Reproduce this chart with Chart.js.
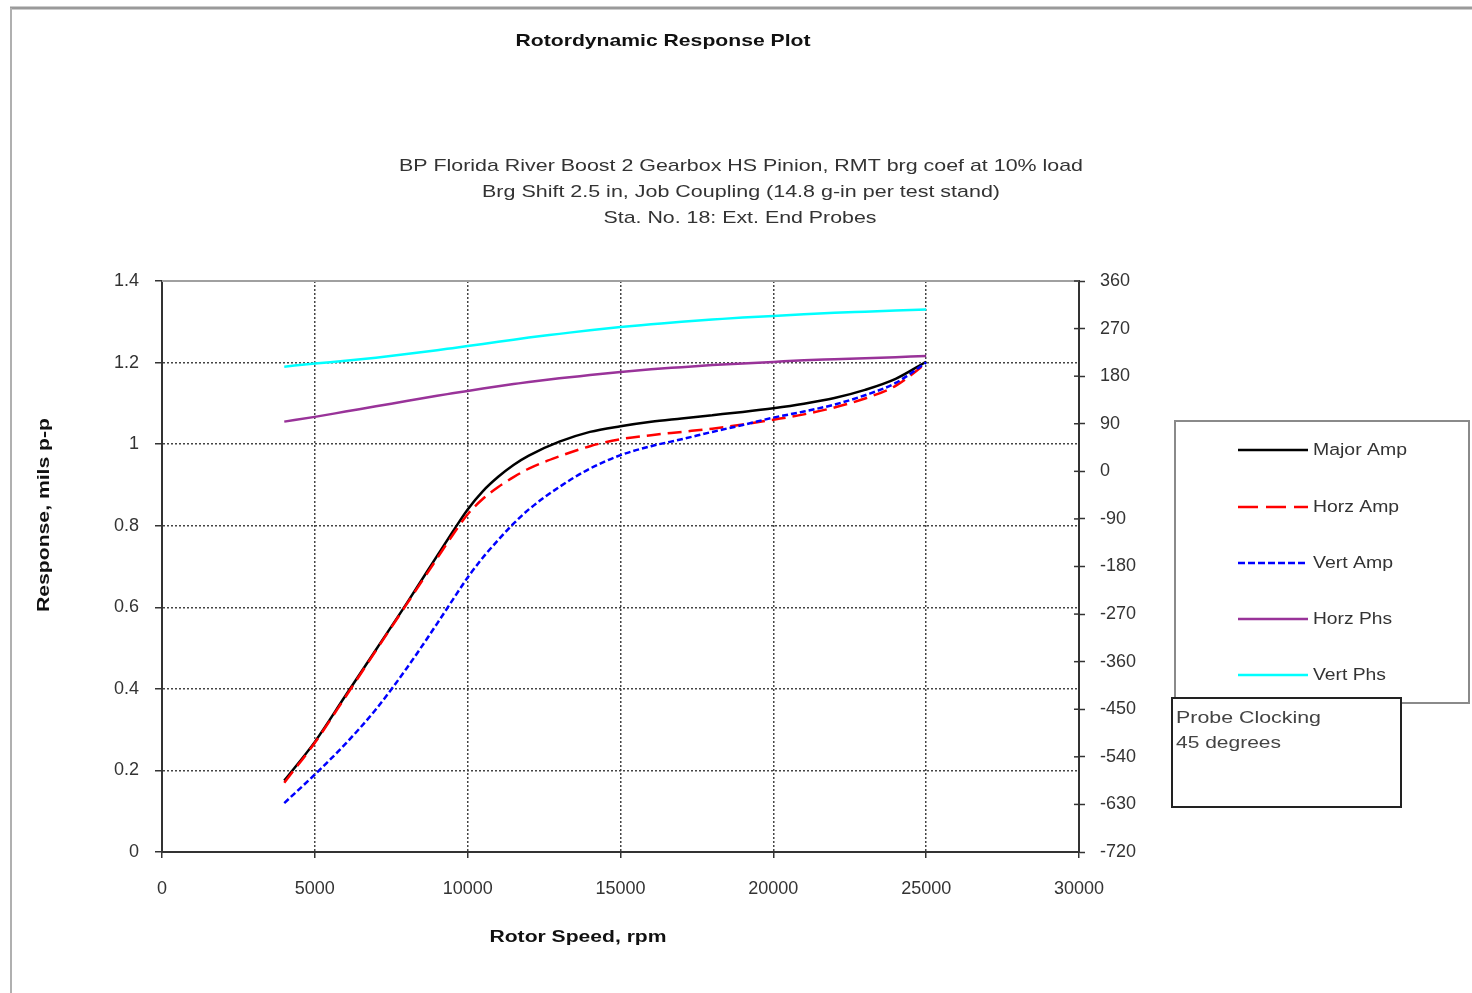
<!DOCTYPE html>
<html>
<head>
<meta charset="utf-8">
<title>Rotordynamic Response Plot</title>
<script src="https://cdn.jsdelivr.net/npm/chart.js@4.4.1/dist/chart.umd.min.js"></script>
<style>
  html, body { margin: 0; padding: 0; background: #fff; }
  canvas { display: block; }
</style>
</head>
<body>
<canvas id="responseChart" width="1472" height="993"></canvas>
<script>
// rotor speed, rpm
const speeds = [4000, 5000, 6000, 7000, 8000, 9000, 9500, 10000, 10500, 11000, 11500, 12000, 13000, 14000,
    15000, 16000, 17000, 18000, 19000, 20000, 21000, 22000, 23000, 24000, 25000];

// amplitudes, mils p-p (left axis)
const majorAmp = [0.175, 0.27, 0.383, 0.496, 0.609, 0.726, 0.784, 0.84, 0.885, 0.92, 0.949, 0.972, 1.006, 1.03,
    1.044, 1.055, 1.063, 1.071, 1.079, 1.088, 1.099, 1.113, 1.133, 1.16, 1.202];
const horzAmp = [0.17, 0.268, 0.38, 0.494, 0.607, 0.72, 0.776, 0.828, 0.866, 0.895, 0.919, 0.94, 0.97, 0.995,
    1.012, 1.022, 1.03, 1.038, 1.048, 1.06, 1.073, 1.09, 1.112, 1.143, 1.198];
const vertAmp = [0.12, 0.19, 0.265, 0.35, 0.45, 0.56, 0.617, 0.673, 0.722, 0.765, 0.805, 0.84, 0.895, 0.94,
    0.973, 0.995, 1.012, 1.03, 1.047, 1.065, 1.08, 1.097, 1.12, 1.15, 1.2];

// phases, degrees (right axis)
const horzPhs = [94, 103, 113, 123, 133, 143, 147.5, 152, 156.5, 161, 165, 169, 176, 182,
    188, 193, 197, 201, 204, 207, 210, 212, 214, 216, 218];
const vertPhs = [198, 204, 209, 215, 222, 229, 233, 237, 241, 245, 249, 253, 260, 267,
    273, 278, 283, 287, 291, 294, 297, 300, 302, 304, 306];

const seriesNames = ["Major Amp", "Horz Amp", "Vert Amp", "Horz Phs", "Vert Phs"];

const chartTitle = "Rotordynamic Response Plot";
const subTitle = [
    "BP Florida River Boost 2 Gearbox HS Pinion, RMT brg coef at 10% load",
    "Brg Shift 2.5 in, Job Coupling (14.8 g-in per test stand)",
    "Sta. No. 18: Ext. End Probes"
];
const xTitle = "Rotor Speed, rpm";
const yTitle = "Response, mils p-p";
const noteLines = ["Probe Clocking", "45 degrees"];

const FONT = "'Liberation Sans', Arial, sans-serif";

function pts(values) {
    return speeds.map((s, i) => ({ x: s, y: values[i] }));
}

// draw text squeezed/stretched horizontally to a given width
function fitText(ctx, text, x, y, width, align) {
    const w = ctx.measureText(text).width;
    ctx.save();
    ctx.translate(x, y);
    ctx.scale(width / w, 1);
    ctx.textAlign = align;
    ctx.fillText(text, 0, 0);
    ctx.restore();
}

const decorations = {
    id: 'decorations',
    beforeDraw(chart) {
        const ctx = chart.ctx;
        ctx.save();
        ctx.fillStyle = '#fff';
        ctx.fillRect(0, 0, chart.width, chart.height);
        // outer frame
        ctx.strokeStyle = '#9a9a9a';
        ctx.lineWidth = 3;
        ctx.beginPath();
        ctx.moveTo(10, 8);
        ctx.lineTo(chart.width, 8);
        ctx.stroke();
        ctx.lineWidth = 2;
        ctx.strokeStyle = '#b0b0b0';
        ctx.beginPath();
        ctx.moveTo(11, 8);
        ctx.lineTo(11, chart.height);
        ctx.stroke();
        ctx.restore();
    },
    afterDraw(chart) {
        const ctx = chart.ctx;
        const area = chart.chartArea;
        ctx.save();

        // top edge of plot area
        ctx.strokeStyle = '#a0a0a0';
        ctx.lineWidth = 2;
        ctx.beginPath();
        ctx.moveTo(area.left, area.top);
        ctx.lineTo(area.right, area.top);
        ctx.stroke();

        // right axis ticks cross the axis
        const y2 = chart.scales.y2;
        ctx.strokeStyle = '#333';
        ctx.lineWidth = 1.5;
        y2.ticks.forEach(t => {
            const py = y2.getPixelForValue(t.value);
            ctx.beginPath();
            ctx.moveTo(area.right - 5, py);
            ctx.lineTo(area.right, py);
            ctx.stroke();
        });

        ctx.textBaseline = 'middle';

        // titles
        ctx.fillStyle = '#111';
        ctx.font = 'bold 17px ' + FONT;
        fitText(ctx, chartTitle, 663, 41, 295, 'center');

        ctx.fillStyle = '#333';
        ctx.font = '17px ' + FONT;
        fitText(ctx, subTitle[0], 741, 166, 684, 'center');
        fitText(ctx, subTitle[1], 741, 192, 518, 'center');
        fitText(ctx, subTitle[2], 740, 218, 273, 'center');

        ctx.fillStyle = '#111';
        ctx.font = 'bold 16px ' + FONT;
        fitText(ctx, xTitle, 578, 938, 177, 'center');

        ctx.save();
        ctx.translate(45, 515);
        ctx.rotate(-Math.PI / 2);
        fitText(ctx, yTitle, 0, 0, 194, 'center');
        ctx.restore();

        // legend box
        ctx.strokeStyle = '#8a8a8a';
        ctx.lineWidth = 2;
        ctx.strokeRect(1175, 421, 294, 282);
        ctx.font = '16px ' + FONT;
        ctx.fillStyle = '#333';
        const rowY = [450, 507, 563, 619, 675];
        const textW = [94, 86, 80, 79, 73];
        chart.data.datasets.forEach((ds, i) => {
            ctx.save();
            ctx.strokeStyle = ds.borderColor;
            ctx.lineWidth = ds.borderWidth;
            ctx.setLineDash(ds.legendDash || []);
            ctx.beginPath();
            ctx.moveTo(1238, rowY[i]);
            ctx.lineTo(1308, rowY[i]);
            ctx.stroke();
            ctx.restore();
            fitText(ctx, ds.label, 1313, rowY[i] + 1, textW[i], 'left');
        });

        // probe clocking note
        ctx.fillStyle = '#fff';
        ctx.fillRect(1172, 698, 229, 109);
        ctx.strokeStyle = '#222';
        ctx.lineWidth = 2;
        ctx.strokeRect(1172, 698, 229, 109);
        ctx.fillStyle = '#444';
        ctx.font = '17px ' + FONT;
        fitText(ctx, noteLines[0], 1176, 718, 145, 'left');
        fitText(ctx, noteLines[1], 1176, 743, 105, 'left');

        ctx.restore();
    }
};

const tickFont = { family: FONT, size: 18 };

new Chart(document.getElementById('responseChart'), {
    type: 'line',
    data: {
        datasets: [
            {
                label: seriesNames[0], data: pts(majorAmp), yAxisID: 'y',
                borderColor: '#000000', borderWidth: 2.5, order: 5
            },
            {
                label: seriesNames[1], data: pts(horzAmp), yAxisID: 'y',
                borderColor: '#ff0000', borderWidth: 2.5, borderDash: [14, 7],
                legendDash: [20, 8], order: 4
            },
            {
                label: seriesNames[2], data: pts(vertAmp), yAxisID: 'y',
                borderColor: '#0000ff', borderWidth: 2.5, borderDash: [6, 3],
                legendDash: [7, 3], order: 3
            },
            {
                label: seriesNames[3], data: pts(horzPhs), yAxisID: 'y2',
                borderColor: '#993399', borderWidth: 2.5, order: 2
            },
            {
                label: seriesNames[4], data: pts(vertPhs), yAxisID: 'y2',
                borderColor: '#00ffff', borderWidth: 2.5, order: 1
            }
        ]
    },
    options: {
        responsive: false,
        devicePixelRatio: 1,
        animation: false,
        layout: { padding: { top: 281, left: 0, right: 0, bottom: 0 } },
        elements: {
            point: { radius: 0 },
            line: { cubicInterpolationMode: 'monotone', fill: false }
        },
        plugins: {
            legend: { display: false },
            tooltip: { enabled: false },
            title: { display: false }
        },
        scales: {
            x: {
                type: 'linear',
                min: 0,
                max: 30000,
                afterFit: scale => { scale.height = 141; },
                ticks: {
                    stepSize: 5000,
                    color: '#333',
                    font: tickFont,
                    padding: 20,
                    maxRotation: 0,
                    callback: v => String(v)
                },
                grid: { color: '#444', lineWidth: 1.5, tickLength: 6, tickColor: '#333', tickWidth: 1.5 },
                border: { color: '#333', width: 2, dash: [2, 2] }
            },
            y: {
                position: 'left',
                min: 0,
                max: 1.4,
                afterFit: scale => { scale.width = 162; },
                ticks: {
                    stepSize: 0.2,
                    color: '#333',
                    font: tickFont,
                    padding: 16,
                    callback: v => String(Math.round(v * 10) / 10)
                },
                grid: { color: '#444', lineWidth: 1.5, tickLength: 7, tickColor: '#333', tickWidth: 1.5 },
                border: { color: '#333', width: 2, dash: [2, 2] }
            },
            y2: {
                position: 'right',
                min: -720,
                max: 360,
                afterFit: scale => { scale.width = 393; },
                ticks: {
                    stepSize: 90,
                    color: '#333',
                    font: tickFont,
                    padding: 15,
                    callback: v => String(v)
                },
                grid: { drawOnChartArea: false, tickLength: 6, tickColor: '#333', tickWidth: 1.5 },
                border: { color: '#333', width: 2 }
            }
        }
    },
    plugins: [decorations]
});
</script>
</body>
</html>
